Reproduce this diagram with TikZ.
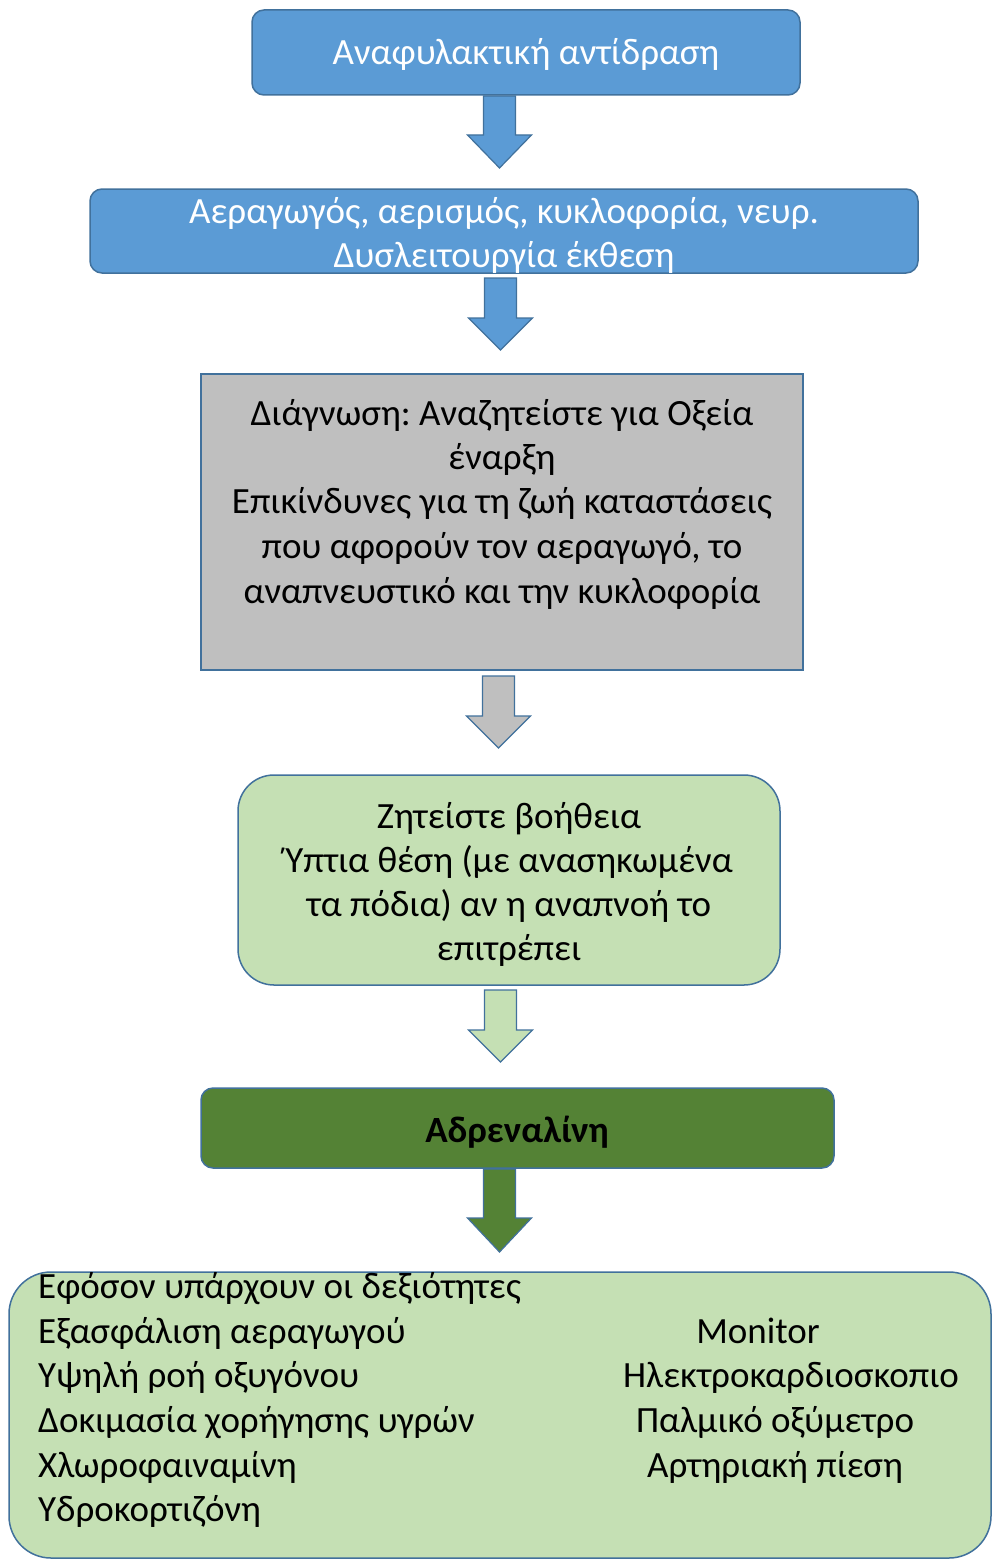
\documentclass[tikz,border=0pt]{standalone}
\usepackage{fontspec}
\setmainfont{Carlito}
\frenchspacing
\definecolor{bluefill}{HTML}{5B9BD5}
\definecolor{blueedge}{HTML}{41719C}
\definecolor{grayfill}{HTML}{BFBFBF}
\definecolor{lgreen}{HTML}{C5E0B4}
\definecolor{dgreen}{HTML}{548235}
\begin{document}
\begin{tikzpicture}[x=1pt,y=-1pt,
  boxbase/.style={draw=blueedge,line width=1.5pt,inner sep=0pt},
  txt/.style={font=\fontsize{37}{44.5}\selectfont,anchor=base,inner sep=0pt},
  ltxt/.style={font=\fontsize{37}{44.5}\selectfont,anchor=base west,inner sep=0pt},
  blockarrow/.style={draw=blueedge,line width=1.2pt,line join=miter}]
\clip (0,0) rectangle (993,1560);
\fill[white] (0,0) rectangle (993,1560);
% boxes
\path[boxbase,fill=bluefill,rounded corners=12pt] (252,10) rectangle (800,95);
\node[txt,text=white] (t1) at (526,65) {Αναφυλακτική αντίδραση};
\path[boxbase,fill=bluefill,rounded corners=12pt] (90,189) rectangle (918,273);
\node[txt,text=white] (t2a) at (504,223) {Αεραγωγός, αερισμός, κυκλοφορία, νευρ.};
\node[txt,text=white] (t2b) at (504,267) {Δυσλειτουργία έκθεση};
\path[boxbase,fill=grayfill] (201,374) rectangle (803,670);
\node[txt] (t3a) at (502,425) {Διάγνωση: Αναζητείστε για Οξεία};
\node[txt] (t3b) at (502,469) {έναρξη};
\node[txt] (t3c) at (502,513) {Επικίνδυνες για τη ζωή καταστάσεις};
\node[txt] (t3d) at (502,558) {που αφορούν τον αεραγωγό, το};
\node[txt] (t3e) at (502,603) {αναπνευστικό και την κυκλοφορία};
\path[boxbase,fill=lgreen,rounded corners=36pt] (238,775) rectangle (780,985);
\node[txt] (t4a) at (509,828) {Ζητείστε βοήθεια};
\node[txt] (t4b) at (509,872) {Ύπτια θέση (με ανασηκωμένα};
\node[txt] (t4c) at (509,916) {τα πόδια) αν η αναπνοή το};
\node[txt] (t4d) at (509,960) {επιτρέπει};
\path[boxbase,fill=dgreen,rounded corners=12pt] (201,1088) rectangle (834,1168);
\node[txt,font=\fontsize{37}{44.5}\selectfont\bfseries] (t5) at (517,1142) {Αδρεναλίνη};
\path[boxbase,fill=lgreen,rounded corners=42pt] (9,1272) rectangle (991,1558);
\node[ltxt] (l1) at (38,1298) {Εφόσον υπάρχουν οι δεξιότητες};
\node[ltxt] (l2) at (38,1343) {Εξασφάλιση αεραγωγού};
\node[ltxt] (l3) at (38,1387) {Υψηλή ροή οξυγόνου};
\node[ltxt] (l4) at (38,1432) {Δοκιμασία χορήγησης υγρών};
\node[ltxt] (l5) at (38,1477) {Χλωροφαιναμίνη};
\node[ltxt] (l6) at (38,1521) {Υδροκορτιζόνη};
\node[txt] (r1) at (758,1343) {Monitor};
\node[txt] (r2) at (791,1387) {Ηλεκτροκαρδιοσκοπιο};
\node[txt] (r3) at (775,1432) {Παλμικό οξύμετρο};
\node[txt] (r4) at (775,1477) {Αρτηριακή πίεση};
% block arrows
\newcommand{\blockarr}[5]{%
  \draw[blockarrow,fill=#1] (#2-16,#3) -- (#2+16,#3) -- (#2+16,#4) -- (#2+32,#4)
    -- (#2,#5) -- (#2-32,#4) -- (#2-16,#4) -- cycle;}
\blockarr{bluefill}{499.5}{96}{135}{168}
\blockarr{bluefill}{500.5}{278}{318}{350}
\blockarr{grayfill}{498.5}{676}{716}{748}
\blockarr{lgreen}{500.5}{990}{1030}{1062}
\blockarr{dgreen}{499.5}{1169}{1218}{1252}
\end{tikzpicture}
\end{document}
